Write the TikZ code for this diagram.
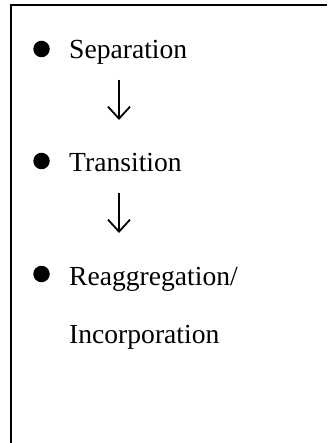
\documentclass[tikz,border=0pt]{standalone}
\usepackage{fontspec}
\setmainfont{Liberation Serif}
\usetikzlibrary{arrows.meta}

\begin{document}
\begin{tikzpicture}[x=1pt,y=-1pt,
  item/.style={anchor=base west,inner sep=0pt,font=\fontsize{27.6}{33}\selectfont},
  dot/.style={circle,fill,inner sep=0pt,minimum size=16.5pt},
  flow/.style={line width=1.8pt,-{Straight Barb[length=12pt,width=22pt,line width=1.8pt]}}]
\useasboundingbox (0,0) rectangle (327,443);
\draw[line width=2.2pt] (327,5) -- (11,5) -- (11,443);
% the three stages
\node[item] (sep) at (69,59) {Separation};
\node[item] (tra) at (69,172) {Transition};
\node[item] (rea) at (69,285) {Reaggregation/};
\node[item] (inc) at (69,343) {Incorporation};
\node[dot] (b1) at (41.5,49) {};
\node[dot] (b2) at (41.5,161) {};
\node[dot] (b3) at (41.5,274) {};
\coordinate (arrx) at (119,0);
\draw[flow] ([yshift=-21pt]sep.base -| arrx) -- ([yshift=52pt]tra.base -| arrx);
\draw[flow] ([yshift=-21pt]tra.base -| arrx) -- ([yshift=52pt]rea.base -| arrx);
\end{tikzpicture}
\end{document}
